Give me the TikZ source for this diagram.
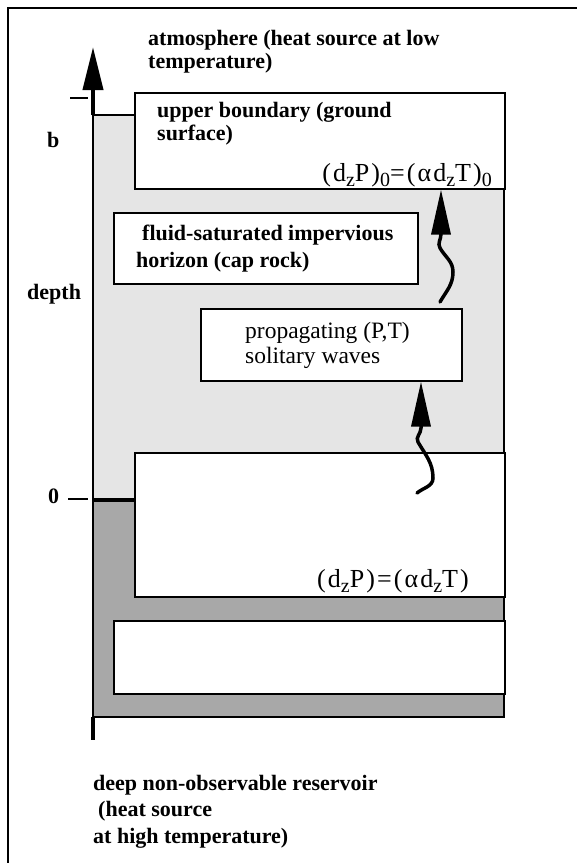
\documentclass[tikz,border=0pt]{standalone}
\usepackage{fontspec}
\setmainfont{Liberation Serif}
\usepackage{tikz}
\usetikzlibrary{arrows.meta}

\definecolor{lightzone}{gray}{0.9}
\definecolor{darkzone}{gray}{0.66}
\newcommand{\lowsub}[1]{\raisebox{-5pt}{\fontsize{20}{20}\selectfont #1}}

\begin{document}
\begin{tikzpicture}[x=1pt, y=1pt,
        layer/.style={draw=black, line width=1.6pt, fill=white, inner sep=0pt, anchor=north west},
        bold/.style={font=\bfseries\fontsize{22}{#1}\selectfont, align=left, inner sep=0pt, anchor=base west},
        bold/.default=23,
        plain/.style={font=\fontsize{23.5}{25}\selectfont, align=left, inner sep=0pt, anchor=base west},
        formula/.style={font=\fontsize{26}{28}\selectfont\addfontfeature{LetterSpace=8}, inner sep=0pt, anchor=base east},
        wave/.style={line width=3.5pt, line cap=round, -{Triangle[length=45pt, width=19pt]}}]
        \useasboundingbox (0,0) rectangle (577,-863);

        % Frame
        \draw[line width=2.5pt] (8,-863) -- (8,-8) -- (577,-8);

        % Zones above and below depth 0
        \fill[lightzone] (93,-115) rectangle (504,-500);
        \fill[darkzone] (93,-500) rectangle (504,-717);
        \draw[line width=1.6pt] (93,-115) rectangle (504,-717);

        % Layers
        \node[layer, minimum width=370pt, minimum height=96pt] (upper) at (134,-92) {};
        \node[layer, minimum width=304pt, minimum height=71pt] (cap) at (113,-212) {};
        \node[layer, minimum width=261pt, minimum height=72pt] (prop) at (200,-308) {};
        \node[layer, minimum width=370pt, minimum height=144pt] (lower) at (134,-452) {};
        \node[layer, minimum width=391pt, minimum height=73pt] (deep) at (113,-620) {};
        \draw[line width=4pt] (93,-500) -- (lower.west |- 0,-500);

        % Depth axis
        \coordinate (axtop) at (93,-47);
        \coordinate (axbot) at (93,-740);
        \draw[line width=4pt, -{Triangle[length=43pt, width=20pt]}] (93,-115) -- (axtop);
        \draw[line width=4pt] (93,-717) -- (axbot);
        \draw[line width=2pt] (70,-98) -- (88,-98);
        \draw[line width=2pt] (68,-499) -- (88,-499);
        \node[bold] (b) at (47,-147) {b};
        \node[bold] (zero) at (48,-503) {0};
        \node[bold] (depth) at (27,-299) {depth};

        % Waves
        \coordinate (w1) at (440,-302);
        \coordinate (w2) at (417,-493);
        \draw[wave] (w1) to[out=60, in=-90] (453,-272) to[out=90, in=-60] (440,-248)
            to[out=120, in=-90] (441,-234) -- (upper.south -| 441,0);
        \draw[wave] (w2) to[out=40, in=-90] (433,-478) to[out=90, in=-60] (418,-442)
            to[out=120, in=-90] (421,-428) -- (prop.south -| 421,0);

        % Labels (base = last line)
        \node[bold=22.5] (atm) at (148,-68) {atmosphere (heat source at low\\temperature)};
        \node[bold] (ground) at (157,-140) {upper boundary (ground\\surface)};
        \node[formula] (top bc) at (492,-181) {(d\lowsub{z}P)\lowsub{0}=(αd\lowsub{z}T)\lowsub{0}};
        \node[bold=27] (caprock) at (136,-267) {\hspace*{6pt}fluid-saturated impervious\\horizon (cap rock)};
        \node[plain] (waves) at (245,-363) {propagating (P,T)\\solitary waves};
        \node[formula] (bottom bc) at (469,-587) {(d\lowsub{z}P)=(αd\lowsub{z}T)};
        \node[bold=26.5] (reservoir) at (93,-843) {deep non-observable reservoir\\\hspace*{5pt}(heat source\\at high temperature)};
\end{tikzpicture}
\end{document}
